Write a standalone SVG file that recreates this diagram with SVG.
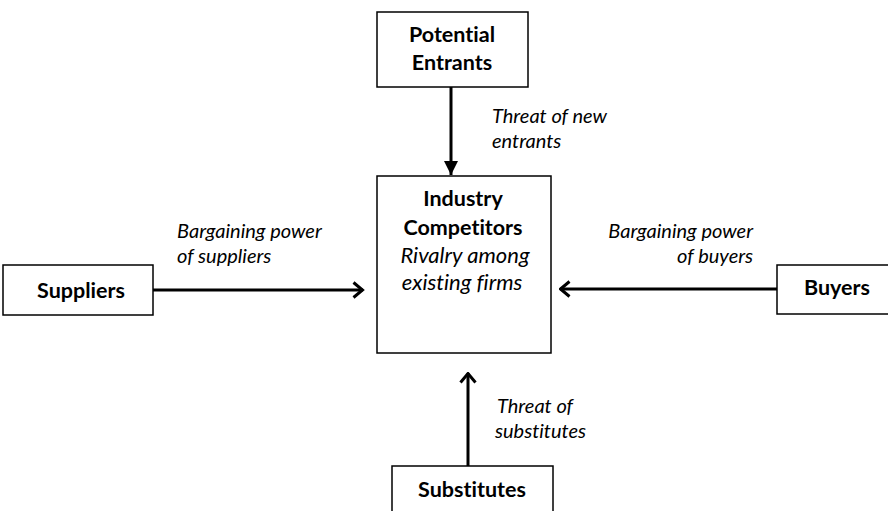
<svg xmlns="http://www.w3.org/2000/svg" width="888" height="511" viewBox="0 0 888 511">
  <style>
    text { font-variant-ligatures: none; }
    .box { fill: #ffffff; stroke: #000000; stroke-width: 1.5; }
    .title { font-family: Lato, "Open Sans", "Liberation Sans", sans-serif; font-weight: bold; font-size: 21.5px; fill: #000000; text-anchor: middle; }
    .note { font-family: Lato, "Open Sans", "Liberation Sans", sans-serif; font-style: italic; font-size: 20px; fill: #000000; }
    .inner { font-size: 22px; text-anchor: middle; }
    .edge { fill: none; stroke: #000000; stroke-width: 3; }
  </style>
  <defs>
    <!-- open V arrowhead -->
    <marker id="chevron" viewBox="0 0 14 18" refX="12.5" refY="9" markerWidth="14" markerHeight="18" markerUnits="userSpaceOnUse" orient="auto">
      <path d="M3,1.5 L12,9 L3,16.5" fill="none" stroke="#000000" stroke-width="3"/>
    </marker>
    <!-- filled triangle arrowhead -->
    <marker id="solid" viewBox="0 0 14 14" refX="14" refY="7" markerWidth="14" markerHeight="14" markerUnits="userSpaceOnUse" orient="auto">
      <path d="M0,0 L14,7 L0,14 Z" fill="#000000"/>
    </marker>
  </defs>

  <rect width="888" height="511" fill="#ffffff"/>

  <!-- connectors -->
  <g id="connectors">
    <line class="edge" x1="451" y1="87" x2="451" y2="175" marker-end="url(#solid)"/>
    <line class="edge" x1="153" y1="290" x2="363" y2="290" marker-end="url(#chevron)"/>
    <line class="edge" x1="777" y1="289" x2="560" y2="289" marker-end="url(#chevron)"/>
    <line class="edge" x1="468" y1="466" x2="468" y2="373" marker-end="url(#chevron)"/>
  </g>

  <!-- edge labels -->
  <g id="labels">
    <text class="note" x="492" y="123">Threat of new</text>
    <text class="note" x="492" y="148">entrants</text>
    <text class="note" x="177" y="238">Bargaining power</text>
    <text class="note" x="177" y="263">of suppliers</text>
    <text class="note" x="753" y="238" text-anchor="end">Bargaining power</text>
    <text class="note" x="753" y="263" text-anchor="end">of buyers</text>
    <text class="note" x="497" y="413">Threat of</text>
    <text class="note" x="495" y="438">substitutes</text>
  </g>

  <g id="potential-entrants">
    <rect class="box" x="377" y="12" width="151" height="75"/>
    <text class="title" x="452" y="42">Potential</text>
    <text class="title" x="452" y="70">Entrants</text>
  </g>

  <g id="industry-competitors">
    <rect class="box" x="377" y="176" width="174" height="177"/>
    <text class="title" x="463" y="206">Industry</text>
    <text class="title" x="463" y="235">Competitors</text>
    <text class="note inner" x="465" y="263">Rivalry among</text>
    <text class="note inner" x="462" y="290">existing firms</text>
  </g>

  <g id="suppliers">
    <rect class="box" x="3" y="265" width="150" height="50"/>
    <text class="title" x="81" y="298">Suppliers</text>
  </g>

  <g id="buyers">
    <rect class="box" x="777" y="265" width="114" height="49"/>
    <text class="title" x="837" y="295">Buyers</text>
  </g>

  <g id="substitutes">
    <rect class="box" x="392" y="466" width="161" height="50"/>
    <text class="title" x="472" y="497">Substitutes</text>
  </g>
</svg>
